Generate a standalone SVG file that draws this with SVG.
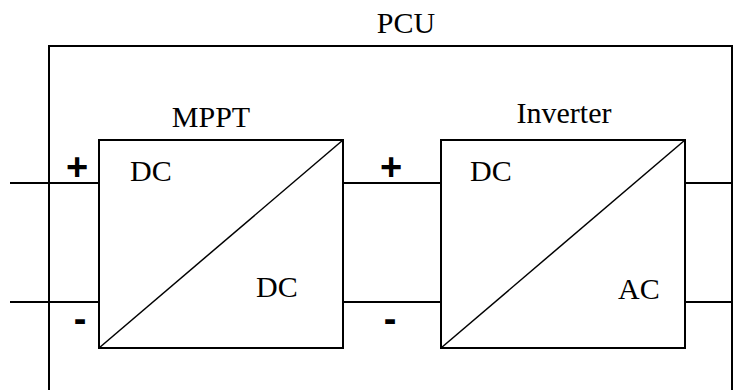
<svg xmlns="http://www.w3.org/2000/svg" width="734" height="390" viewBox="0 0 734 390">
<style>
.box{fill:none;stroke:#000;stroke-width:2}
.ln{stroke:#000;stroke-width:2;fill:none}
.diag{stroke:#000;stroke-width:1.5}
.t{font-family:"Liberation Serif","Times New Roman",serif;font-size:30px;fill:#000}
.s{font-family:"Liberation Sans",Arial,sans-serif;font-weight:bold;font-size:38px;fill:#000;text-anchor:middle}
</style>
<rect width="734" height="390" fill="#fff"/>
<g id="pcu">
<rect class="box" x="49" y="46" width="683" height="360"/>
<text class="t" x="406" y="33" text-anchor="middle">PCU</text>
</g>
<g id="connectors">
<line class="ln" x1="10" y1="183" x2="99" y2="183"/>
<line class="ln" x1="10" y1="302" x2="99" y2="302"/>
<line class="ln" x1="343" y1="183" x2="441" y2="183"/>
<line class="ln" x1="343" y1="302" x2="441" y2="302"/>
<line class="ln" x1="685" y1="183" x2="732" y2="183"/>
<line class="ln" x1="685" y1="302" x2="732" y2="302"/>
<text class="s" x="77" y="180">+</text>
<text class="s" x="80" y="332">-</text>
<text class="s" x="391" y="180">+</text>
<text class="s" x="390" y="332">-</text>
</g>
<g id="mppt">
<rect class="box" x="99" y="140" width="244" height="208"/>
<line class="diag" x1="99" y1="348" x2="343" y2="140"/>
<text class="t" x="211" y="127" text-anchor="middle">MPPT</text>
<text class="t" x="130" y="181">DC</text>
<text class="t" x="256" y="297">DC</text>
</g>
<g id="inverter">
<rect class="box" x="441" y="140" width="244" height="208"/>
<line class="diag" x1="441" y1="348" x2="685" y2="140"/>
<text class="t" x="564" y="123" text-anchor="middle">Inverter</text>
<text class="t" x="470" y="181">DC</text>
<text class="t" x="618" y="299">AC</text>
</g>
</svg>
